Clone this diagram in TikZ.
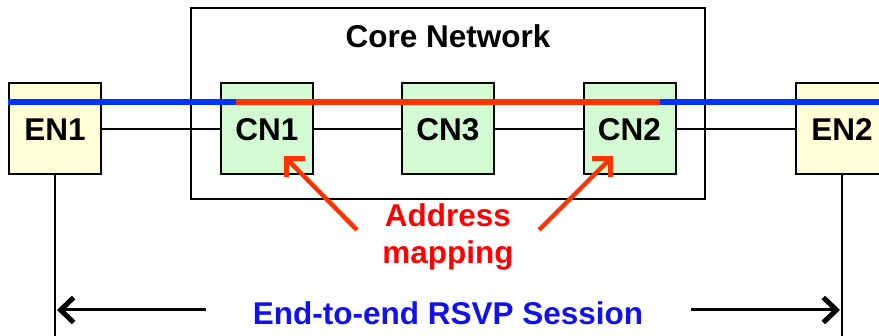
\documentclass[tikz,border=0pt]{standalone}
\usepackage{fontspec}
\setmainfont{Liberation Sans}
\usetikzlibrary{arrows.meta}
\definecolor{enfill}{HTML}{FFFFD8}
\definecolor{cnfill}{HTML}{D4FAD4}
\definecolor{lineblue}{HTML}{0033FF}
\definecolor{linered}{HTML}{FF3300}
\definecolor{txtblue}{HTML}{1010F0}
\begin{document}
\begin{tikzpicture}[x=1pt,y=-1pt,
  lbl/.style={font=\fontsize{31.5}{36}\selectfont\bfseries},
  enbox/.style={draw=black,line width=2pt,fill=enfill,minimum width=92pt,minimum height=91pt,inner sep=0pt,lbl},
  cnbox/.style={draw=black,line width=2pt,fill=cnfill,minimum width=92pt,minimum height=91pt,inner sep=0pt,lbl},
  link/.style={draw=black,line width=2pt},
  pathline/.style={line width=5.5pt},
  mapArrow/.style={draw=linered,line width=4.5pt,-{Straight Barb[length=13pt,width=26pt,line width=5pt]}},
  sessArrow/.style={draw=black,line width=3pt,-{Straight Barb[length=13pt,width=25pt,line width=5pt]}}]
\useasboundingbox (0,0) rectangle (879,336);
\clip (0,0) rectangle (879,336);
% core network box
\node[draw=black,line width=2pt,minimum width=514pt,minimum height=191pt,inner sep=0pt] (core) at (448,103.5) {};
\node[lbl,anchor=base] (coretxt) at (448,48) {Core Network};
% nodes
\node[enbox] (en1) at (55,128.5) {};
\node[lbl] at (55,130) {EN1};
\node[cnbox] (cn1) at (267,128.5) {};
\node[lbl] at (267,130) {CN1};
\node[cnbox] (cn3) at (448,128.5) {};
\node[lbl] at (448,130) {CN3};
\node[cnbox] (cn2) at (629.5,128.5) {};
\node[lbl] at (629.5,130) {CN2};
\node[enbox] (en2) at (842,128.5) {};
\node[lbl] at (842,130) {EN2};
% links
\draw[link] (en1.east |- 0,129) -- (cn1.west |- 0,129);
\draw[link] (cn1.east |- 0,129) -- (cn3.west |- 0,129);
\draw[link] (cn3.east |- 0,129) -- (cn2.west |- 0,129);
\draw[link] (cn2.east |- 0,129) -- (en2.west |- 0,129);
% RSVP path
\coordinate (pa) at (en1.west |- 0,102);
\coordinate (pb) at (236,102);
\coordinate (pc) at (660,102);
\coordinate (pd) at (en2.east |- 0,102);
\draw[pathline,draw=lineblue] (pa) -- (pb);
\draw[pathline,draw=linered] (pb) -- (pc);
\draw[pathline,draw=lineblue] (pc) -- (pd);
% vertical lines
\coordinate (v1) at (55,336);
\coordinate (v2) at (842,336);
\draw[link] (en1.south) -- (v1);
\draw[link] (en2.south) -- (v2);
% address mapping
\node[lbl,text=red,anchor=base] (addr) at (448,227) {Address};
\node[lbl,text=red,anchor=base] (mapp) at (448,264) {mapping};
\coordinate (a1) at (357,230);
\coordinate (a2) at (539,230);
\coordinate (t1) at (284,156);
\coordinate (t2) at (613,156);
\draw[mapArrow] (a1) -- (t1);
\draw[mapArrow] (a2) -- (t2);
% session
\node[lbl,text=txtblue,anchor=base] (sess) at (448,325) {End-to-end RSVP Session};
\coordinate (s1) at (206,310);
\coordinate (s2) at (691,310);
\coordinate (e1) at (57,310);
\coordinate (e2) at (840,310);
\draw[sessArrow] (s1) -- (e1);
\draw[sessArrow] (s2) -- (e2);
\end{tikzpicture}
\end{document}
